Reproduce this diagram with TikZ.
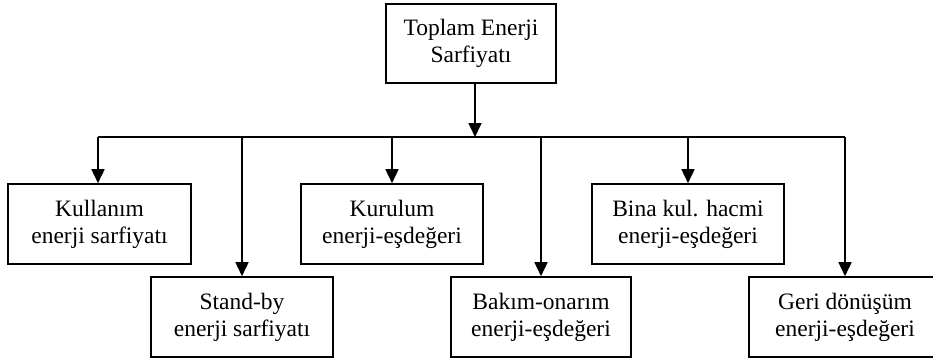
\documentclass[tikz,border=0pt]{standalone}
\usepackage{fontspec}
\setmainfont{Liberation Serif}
\usetikzlibrary{arrows.meta}
\begin{document}
\begin{tikzpicture}[x=1pt,y=-1pt,
  box/.style={draw, line width=1.6pt, rectangle, inner sep=0pt, align=center,
    font=\fontsize{23.5}{27}\selectfont, minimum height=80pt},
  arr/.style={line width=1.6pt, -{Triangle[width=13pt,length=14pt]}},
  ln/.style={line width=1.6pt}]
\useasboundingbox (0,0) rectangle (933,361);
\clip (0,0) rectangle (933,361);
\node[box, minimum width=170pt, minimum height=79pt] (top) at (471,43.5) {Toplam Enerji\\Sarfiyatı};
\coordinate (hub) at (475,137);
\coordinate (busL) at (98,137);
\coordinate (busR) at (845,137);
\node[box, minimum width=183pt] (b1) at (99.5,224) {Kullanım\\enerji sarfiyatı};
\node[box, minimum width=182pt] (b2) at (242,317) {Stand-by\\enerji sarfiyatı};
\node[box, minimum width=182pt] (b3) at (392,224) {Kurulum\\enerji-eşdeğeri};
\node[box, minimum width=180pt] (b4) at (541,317) {Bakım-onarım\\enerji-eşdeğeri};
\node[box, minimum width=192pt] (b5) at (688,224) {Bina kul. hacmi\\enerji-eşdeğeri};
\node[box, minimum width=192pt] (b6) at (845,317) {Geri dönüşüm\\enerji-eşdeğeri};
\draw[arr] (top.south -| hub) -- (hub);
\draw[ln] (busL) -- (busR);
\draw[arr] (busL) -- (b1.north -| busL);
\draw[arr] (hub -| b2.north) -- (b2.north);
\draw[arr] (hub -| b3.north) -- (b3.north);
\draw[arr] (hub -| b4.north) -- (b4.north);
\draw[arr] (hub -| b5.north) -- (b5.north);
\draw[arr] (busR) -- (b6.north);
\end{tikzpicture}
\end{document}
